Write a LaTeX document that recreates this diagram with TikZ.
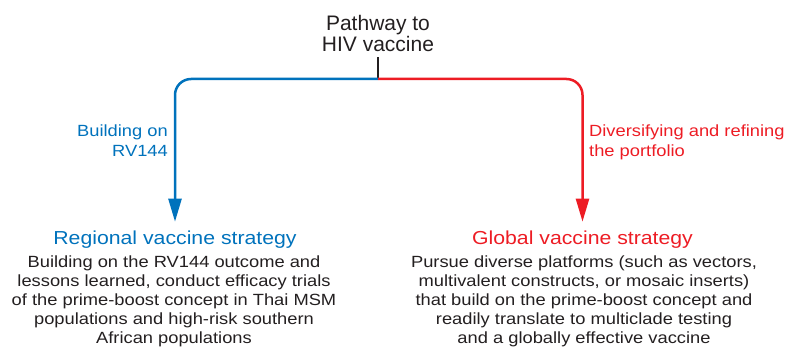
\documentclass[tikz,border=0pt]{standalone}
\usepackage{fontspec}
\setmainfont{Liberation Sans}
\newfontfamily\widefont[FakeStretch=1.13]{Liberation Sans}
\usepackage{xcolor}
\usepackage{tikz}
\usetikzlibrary{%
  arrows.meta,%
  calc,%
  positioning}
\definecolor{rvblue}{RGB}{0,114,188}
\definecolor{rvred}{RGB}{237,28,36}
\definecolor{txtgray}{RGB}{35,31,32}

\begin{document}
\begin{tikzpicture}[x=1pt,y=-1pt,
  branch/.style={line width=2.5pt, rounded corners=16pt, shorten >=9pt,
    -{Triangle[length=23pt,width=13pt]}},
  heading/.style={anchor=base, inner sep=0pt, font=\widefont\fontsize{18.8}{22}\selectfont},
  body/.style={anchor=north, inner sep=0pt, align=center, text=txtgray,
    font=\widefont\fontsize{16.2}{19}\selectfont},
  side/.style={inner sep=0pt, font=\widefont\fontsize{16.2}{20}\selectfont}]
\useasboundingbox (0,0) rectangle (789,347);
% titre et point de separation
\node (T) at (378,51.7) [anchor=base, align=center, inner sep=0pt, text=txtgray,
  font=\fontsize{21}{20.7}\selectfont] {Pathway to\\HIV vaccine};
\coordinate (S) at (378,79);
% les deux strategies
\node (RG) at (175,244.5) [heading, text=rvblue] {Regional vaccine strategy};
\node (GL) at (582.5,244.5) [heading, text=rvred] {Global vaccine strategy};
\node (RGt) at (174,255.7) [body] {Building on the RV144 outcome and\\lessons learned, conduct efficacy trials\\of the prime-boost concept in Thai MSM\\populations and high-risk southern\\African populations};
\node (GLt) at (584,255.7) [body] {Pursue diverse platforms (such as vectors,\\multivalent constructs, or mosaic inserts)\\that build on the prime-boost concept and\\readily translate to multiclade testing\\and a globally effective vaccine};
% etiquettes des branches
\node (LB) at (168,125) [side, anchor=north east, align=right, text=rvblue] {Building on\\RV144};
\node (LR) at (589,125) [side, anchor=north west, align=left, text=rvred] {Diversifying and refining\\the portfolio};
% traits
\draw[line width=2pt, txtgray, shorten <=5pt] (T.south) -- (S);
\draw[branch, rvblue] (S) -| (RG.north);
\draw[branch, rvred] (S) -| (GL.north);
\end{tikzpicture}
\end{document}
